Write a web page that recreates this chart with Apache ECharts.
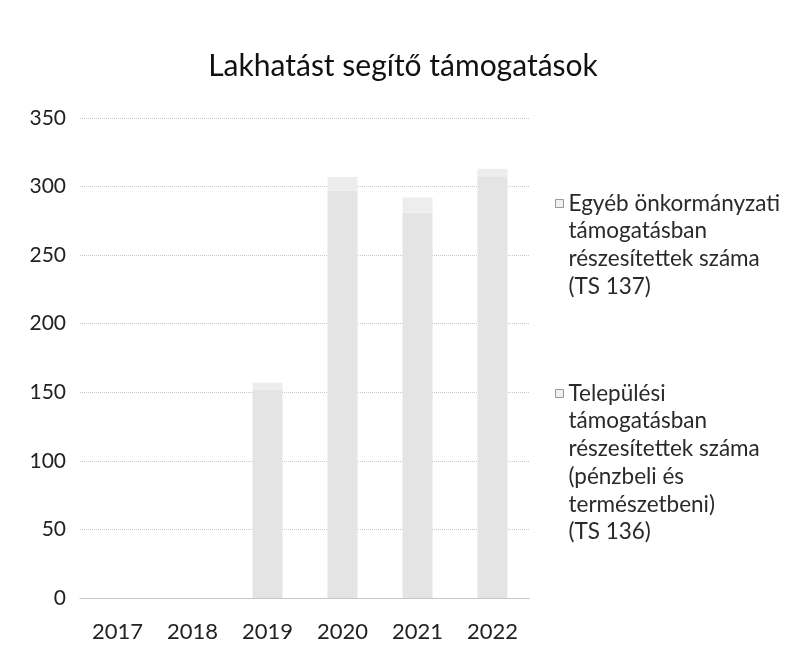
<!DOCTYPE html>
<html><head><meta charset="utf-8">
<script src="https://cdn.jsdelivr.net/npm/echarts@6/dist/echarts.min.js"></script>
<style>html,body{margin:0;padding:0;background:#fff}#c{width:806px;height:655px}</style>
</head><body><div id="c"></div>
<script>
const categories = ['2017','2018','2019','2020','2021','2022'];
const telepulesi = [0, 0, 152, 297, 281, 307];
const egyeb = [0, 0, 5, 10, 11, 6];
const yTicks = [0, 50, 100, 150, 200, 250, 300, 350];
const seriesNames = [
  'Egyéb önkormányzati\ntámogatásban\nrészesítettek száma\n(TS 137)',
  'Települési\ntámogatásban\nrészesítettek száma\n(pénzbeli és\ntermészetbeni)\n(TS 136)'
];
const FONT = 'Lato, sans-serif';
const LH = 27.7;
const chart = echarts.init(document.getElementById('c'));
function legendFor(name, lines, firstLineY) {
  const H = lines * LH;
  const c = LH / 2;
  return {
    orient: 'vertical', left: 555, top: firstLineY - c, padding: 0,
    itemWidth: 8, itemHeight: H, itemGap: 0, selectedMode: false,
    data: [name],
    icon: 'path://M0,0M0,' + H + 'M0,' + (c - 4) + 'L8,' + (c - 4) + 'L8,' + (c + 4) + 'L0,' + (c + 4) + 'Z',
    itemStyle: { color: '#f0f0f0', borderColor: '#999', borderWidth: 1 },
    textStyle: { fontFamily: FONT, fontSize: 22.5, color: '#2a2a2a', lineHeight: LH }
  };
}
chart.setOption({
  animation: false,
  title: {
    text: 'Lakhatást segítő támogatások', left: 'center', top: 46,
    textStyle: { fontFamily: FONT, fontSize: 30, fontWeight: 'normal', color: '#111' }
  },
  legend: [legendFor(seriesNames[0], 4, 203), legendFor(seriesNames[1], 6, 393)],
  grid: { left: 80, right: 276, top: 118, bottom: 57, containLabel: false },
  xAxis: {
    type: 'category', data: categories,
    axisLine: { lineStyle: { color: '#bbb', type: 'dotted' } },
    axisTick: { show: false },
    axisLabel: { fontFamily: FONT, fontSize: 22, color: '#222', margin: 23 }
  },
  yAxis: {
    type: 'value', min: 0, max: 350, interval: 50,
    axisLine: { show: false }, axisTick: { show: false },
    splitLine: { lineStyle: { color: '#c8c8c8', type: 'dotted' } },
    axisLabel: { fontFamily: FONT, fontSize: 21, color: '#222', margin: 14,
      formatter: v => yTicks.includes(v) ? String(v) : '' }
  },
  series: [
    { name: seriesNames[1], type: 'bar', stack: 't', data: telepulesi, barWidth: '40%',
      itemStyle: { color: '#e4e4e4' } },
    { name: seriesNames[0], type: 'bar', stack: 't', data: egyeb, barWidth: '40%',
      itemStyle: { color: '#ededed' } }
  ]
});
</script></body></html>
